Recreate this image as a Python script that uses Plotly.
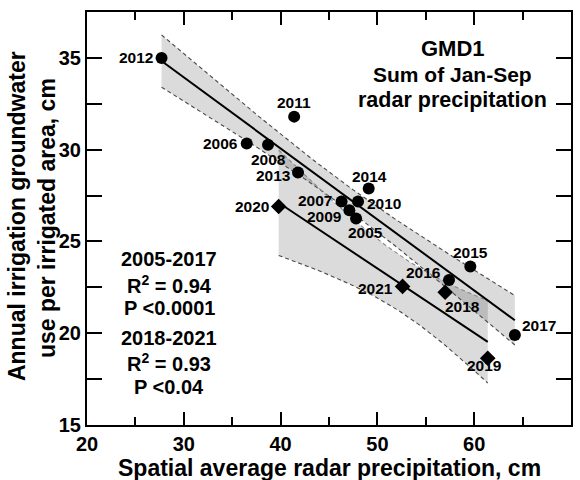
import numpy as np
import plotly.graph_objects as go

# ---- data ----
years_a = [2005, 2006, 2007, 2008, 2009, 2010, 2011, 2012, 2013, 2014, 2015, 2016, 2017]
precip_a = [47.8, 36.5, 46.3, 38.7, 47.1, 48.0, 41.4, 27.7, 41.8, 49.1, 59.6, 57.4, 64.2]
use_a = [26.25, 30.33, 27.17, 30.27, 26.7, 27.17, 31.8, 35.0, 28.75, 27.88, 23.64, 22.9, 19.9]

years_b = [2018, 2019, 2020, 2021]
precip_b = [57.0, 61.4, 39.8, 52.6]
use_b = [22.23, 18.64, 26.9, 22.55]

x_ticks = [20, 30, 40, 50, 60, 70]
y_ticks = [15, 20, 25, 30, 35]

stats_a = ["2005-2017", "R<sup>2</sup> = 0.94", "P <0.0001"]
stats_b = ["2018-2021", "R<sup>2</sup> = 0.93", "P <0.04"]
title_lines = ["GMD1", "Sum of Jan-Sep", "radar precipitation"]

# t multipliers for the confidence bands
T_A = 2.201
T_B = 2.920

# label placement (anchor, xshift px, yshift px)
label_pos = {
    2012: ("right", -7, 0), 2011: ("center", 0, 14), 2006: ("right", -7, 0),
    2008: ("center", 0, -15), 2013: ("right", -5, -3), 2020: ("right", -8, 0),
    2014: ("center", 1, 12), 2007: ("right", -8, 1), 2010: ("left", 7, -2),
    2009: ("right", -5, -6), 2005: ("center", 9, -14), 2015: ("center", 0, 14),
    2016: ("right", -6, 7), 2021: ("right", -8, -2), 2018: ("center", 17, -14),
    2017: ("left", 5, 10), 2019: ("center", -3, -7),
}


def fit_band(x, y, t, n=80):
    x = np.asarray(x, float)
    y = np.asarray(y, float)
    slope, intercept = np.polyfit(x, y, 1)
    resid = y - (intercept + slope * x)
    s = np.sqrt(np.sum(resid ** 2) / (len(x) - 2))
    sxx = np.sum((x - x.mean()) ** 2)
    xg = np.linspace(x.min(), x.max(), n)
    yh = intercept + slope * xg
    se = s * np.sqrt(1.0 / len(x) + (xg - x.mean()) ** 2 / sxx)
    return xg, yh, yh + t * se, yh - t * se


fig = go.Figure()
FILL = "rgba(0,0,0,0.14)"

bands = [fit_band(precip_a, use_a, T_A), fit_band(precip_b, use_b, T_B)]
for xg, yh, up, lo in bands:
    fig.add_trace(go.Scatter(x=np.concatenate([xg, xg[::-1]]),
                             y=np.concatenate([up, lo[::-1]]),
                             fill="toself", fillcolor=FILL, mode="lines",
                             line=dict(width=0), hoverinfo="skip", showlegend=False))
for i, (xg, yh, up, lo) in enumerate(bands):
    upc = "#4a4a4a" if i == 0 else "#888888"
    fig.add_trace(go.Scatter(x=xg, y=up, mode="lines",
                             line=dict(color=upc, width=1.1, dash="4px,3px"), showlegend=False))
    fig.add_trace(go.Scatter(x=xg, y=lo, mode="lines",
                             line=dict(color="#4a4a4a", width=1.1, dash="4px,3px"), showlegend=False))
for xg, yh, up, lo in bands:
    fig.add_trace(go.Scatter(x=[xg[0], xg[-1]], y=[yh[0], yh[-1]], mode="lines",
                             line=dict(color="black", width=2), showlegend=False))

fig.add_trace(go.Scatter(x=precip_a, y=use_a, mode="markers",
                         marker=dict(symbol="circle", size=12, color="black"), showlegend=False))
fig.add_trace(go.Scatter(x=precip_b, y=use_b, mode="markers",
                         marker=dict(symbol="diamond", size=12, color="black"), showlegend=False))
# empty trace on the mirrored axes (top / right ticks)
fig.add_trace(go.Scatter(x=[None], y=[None], xaxis="x2", yaxis="y2", mode="markers",
                         showlegend=False, hoverinfo="skip"))

LBL = dict(family="Liberation Sans, Arial", size=15.5, color="black", weight="bold")
anns = []
for yr, px, py in list(zip(years_a, precip_a, use_a)) + list(zip(years_b, precip_b, use_b)):
    anc, dx, dy = label_pos[yr]
    anns.append(dict(x=px, y=py, xref="x", yref="y", text=str(yr), showarrow=False,
                     xanchor=anc, yanchor="middle", xshift=dx, yshift=dy, font=LBL))

BIG = dict(family="Liberation Sans, Arial", size=20, color="black", weight="bold")
for txt, yv, sz in zip(title_lines, [35.5, 34.07, 32.72], [22, 21, 21.5]):
    anns.append(dict(x=57.8, y=yv, xref="x", yref="y", text=txt, showarrow=False,
                     xanchor="center", yanchor="middle", font=dict(BIG, size=sz)))
for txt, yv in zip(stats_a + stats_b, [24.07, 22.65, 21.39, 19.75, 18.39, 17.08]):
    anns.append(dict(x=28.5, y=yv, xref="x", yref="y", text=txt, showarrow=False,
                     xanchor="center", yanchor="middle", font=BIG))

TTL = dict(family="Liberation Sans, Arial", size=23, color="black", weight="bold")
anns.append(dict(x=0.502, y=-0.104, xref="paper", yref="paper",
                 text="Spatial average radar precipitation, cm", showarrow=False,
                 xanchor="center", yanchor="middle", font=TTL))
anns.append(dict(x=-0.1446, y=0.506, xref="paper", yref="paper", textangle=-90,
                 text="Annual irrigation groundwater", showarrow=False,
                 xanchor="center", yanchor="middle", font=TTL))
anns.append(dict(x=-0.0826, y=0.501, xref="paper", yref="paper", textangle=-90,
                 text="use per irrigated area, cm", showarrow=False,
                 xanchor="center", yanchor="middle", font=TTL))

TICKF = dict(family="Liberation Sans, Arial", size=20, color="black", weight="bold")
common_x = dict(range=[20, 70], tickvals=x_ticks, ticks="inside", ticklen=13, tickwidth=1.5,
                tickcolor="black", showline=True, linecolor="black", linewidth=2,
                showgrid=False, zeroline=False, tickfont=TICKF,
                minor=dict(dtick=5, tick0=20, ticks="inside", ticklen=8, tickwidth=1.5,
                           tickcolor="black", showgrid=False))
common_y = dict(range=[15, 37.5], tickvals=y_ticks, ticks="inside", ticklen=15, tickwidth=1.5,
                tickcolor="black", showline=True, linecolor="black", linewidth=2,
                showgrid=False, zeroline=False, tickfont=TICKF,
                minor=dict(dtick=2.5, tick0=15, ticks="inside", ticklen=15, tickwidth=1.5,
                           tickcolor="black", showgrid=False))

fig.update_layout(
    width=580, height=480,
    margin=dict(l=87, r=9, t=12, b=55),
    paper_bgcolor="white", plot_bgcolor="white",
    annotations=anns,
    xaxis=dict(common_x),
    yaxis=dict(common_y),
    xaxis2=dict(common_x, overlaying="x", side="top", anchor="y2", showticklabels=False),
    yaxis2=dict(common_y, overlaying="y", side="right", anchor="x2", showticklabels=False),
)

fig.write_html("out.html")
